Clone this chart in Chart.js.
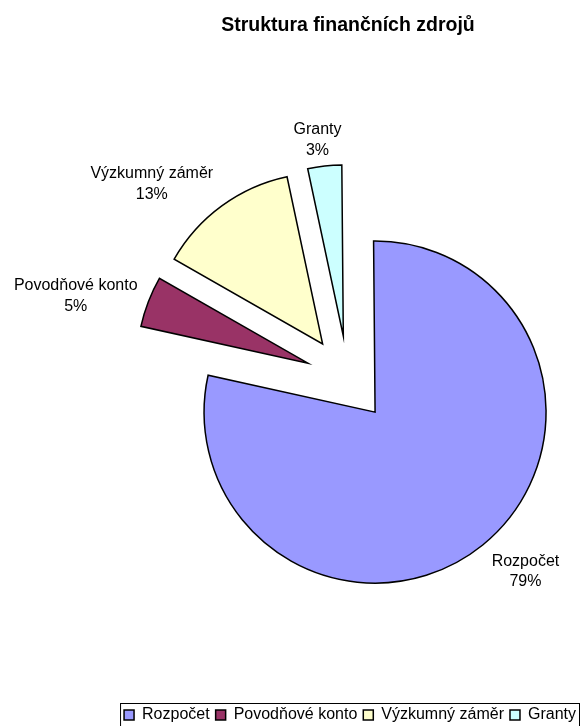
<!DOCTYPE html>
<html lang="cs">
<head>
    <meta charset="UTF-8">
    <title>Struktura finančních zdrojů</title>
    <script src="https://cdn.jsdelivr.net/npm/chart.js"></script>
    <style>
        body { margin: 0; background: #fff; }
        canvas { display: block; }
    </style>
</head>
<body>
    <canvas id="sourcesChart" width="582" height="726"></canvas>

    <script>
        // data (shares in %; labels round them)
        const categories = ['Rozpočet', 'Povodňové konto', 'Výzkumný záměr', 'Granty'];
        const shares = [78.6, 4.8, 13.4, 3.2];
        const sliceColors = ['#9999FF', '#993366', '#FFFFCC', '#CCFFFF'];

        const FONT = '"Liberation Sans", Arial, sans-serif';
        const EXPLODE = 43;
        // label placement: [angle tweak from slice middle (deg), distance from slice tip]
        const labelPlacement = [[-4.6, 218], [-4.7, 242], [-10.5, 235], [-1.2, 199]];

        const total = shares.reduce((a, b) => a + b, 0);

        // pull every slice out along its middle angle, then write the labels
        const explodePlugin = {
            id: 'explode',
            beforeDatasetsDraw(chart) {
                chart.getDatasetMeta(0).data.forEach(arc => {
                    const mid = (arc.startAngle + arc.endAngle) / 2;
                    arc._cx = arc.x;
                    arc._cy = arc.y;
                    arc.x += Math.cos(mid) * EXPLODE;
                    arc.y += Math.sin(mid) * EXPLODE;
                });
            },
            afterDatasetsDraw(chart) {
                const ctx = chart.ctx;
                ctx.save();
                ctx.font = '16px ' + FONT;
                ctx.fillStyle = '#000';
                ctx.textAlign = 'center';
                ctx.textBaseline = 'alphabetic';
                chart.getDatasetMeta(0).data.forEach((arc, i) => {
                    const mid = (arc.startAngle + arc.endAngle) / 2;
                    const [tweak, dist] = labelPlacement[i];
                    const a = mid + tweak * Math.PI / 180;
                    const cx = arc.x + Math.cos(a) * dist;
                    const cy = arc.y + Math.sin(a) * dist;
                    const pct = Math.round(shares[i] * 100 / total) + '%';
                    ctx.fillText(categories[i], cx, cy - 4.4);
                    ctx.fillText(pct, cx, cy + 15.9);
                    arc.x = arc._cx;
                    arc.y = arc._cy;
                });
                ctx.restore();
            }
        };

        // frame round the legend
        const legendFrame = {
            id: 'legendFrame',
            afterDraw(chart) {
                const boxes = chart.legend.legendHitBoxes;
                if (!boxes || !boxes.length) return;
                const first = boxes[0];
                const last = boxes[boxes.length - 1];
                const ctx = chart.ctx;
                ctx.save();
                ctx.strokeStyle = '#000';
                ctx.lineWidth = 1;
                ctx.strokeRect(first.left - 3.5, first.top - 3.5,
                    last.left + last.width - first.left + 7, first.height + 7);
                ctx.restore();
            }
        };

        new Chart(document.getElementById('sourcesChart').getContext('2d'), {
            type: 'pie',
            data: {
                labels: categories,
                datasets: [{
                    data: shares,
                    backgroundColor: sliceColors,
                    borderColor: '#000',
                    borderWidth: 1.5,
                    borderJoinStyle: 'miter'
                }]
            },
            options: {
                responsive: false,
                animation: false,
                radius: 171,
                rotation: -0.5,
                layout: { padding: { left: 0, right: 0, top: 0, bottom: -7 } },
                plugins: {
                    title: {
                        display: true,
                        fullSize: false,
                        text: 'Struktura finančních zdrojů',
                        color: '#000',
                        font: { family: FONT, size: 19.5, weight: 'bold' },
                        padding: { top: 14, bottom: 19 }
                    },
                    // empty left strip: pushes pie and title right like the original
                    subtitle: {
                        display: true,
                        position: 'left',
                        fullSize: false,
                        text: ' ',
                        font: { size: 10, lineHeight: 1 },
                        padding: { top: 52, bottom: 52 }
                    },
                    legend: {
                        position: 'bottom',
                        align: 'end',
                        labels: {
                            color: '#000',
                            font: { family: FONT, size: 16 },
                            boxWidth: 10,
                            boxHeight: 10,
                            padding: 6
                        }
                    },
                    tooltip: { enabled: false }
                }
            },
            plugins: [explodePlugin, legendFrame]
        });
    </script>
</body>
</html>
